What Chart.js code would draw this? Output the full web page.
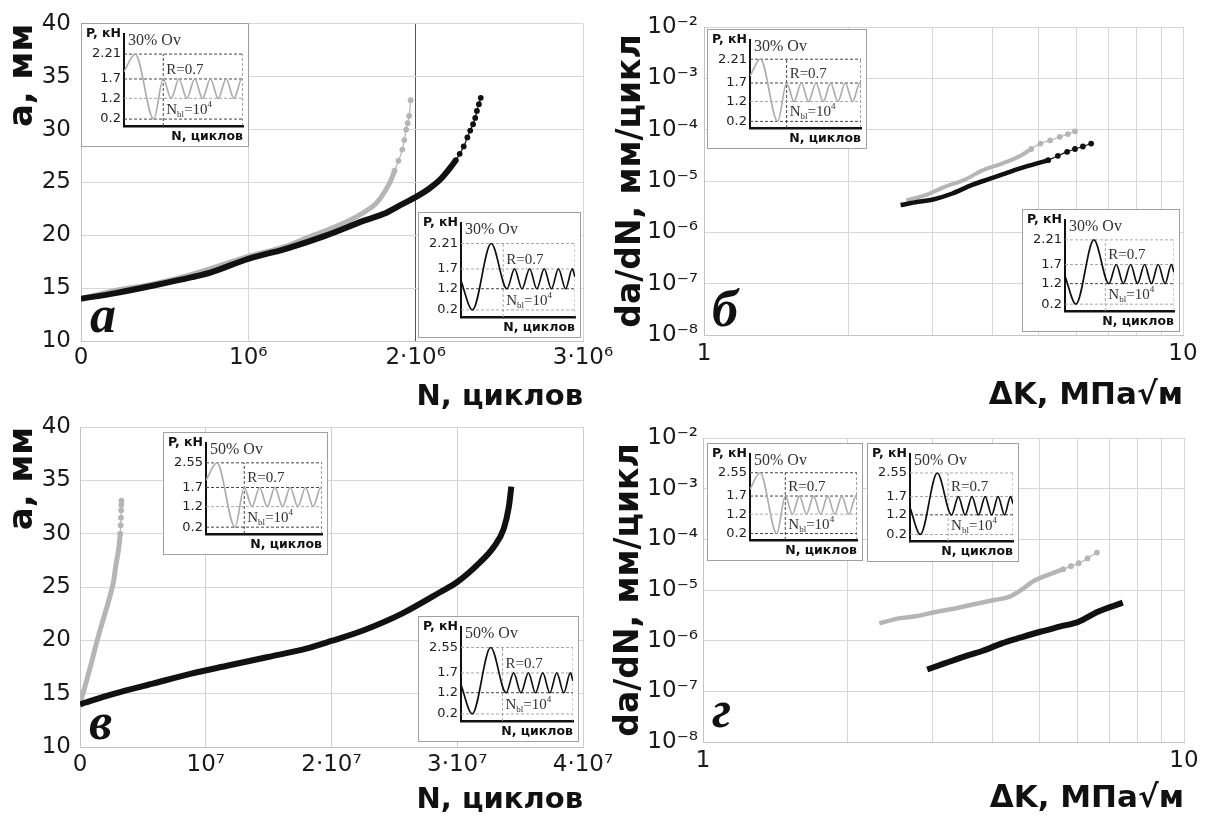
<!DOCTYPE html>
<html><head><meta charset="utf-8">
<script src="https://cdn.jsdelivr.net/npm/chart.js@4.4.0/dist/chart.umd.min.js"></script>
<style>
html,body{margin:0;padding:0;background:#fff;}
#wrap{position:relative;width:1206px;height:816px;overflow:hidden;background:#fff;}
#wrap canvas{position:absolute;}
.inset{position:absolute;background:#fff;border:1.5px solid #a0a0a0;box-sizing:border-box;}
.lbl{position:absolute;white-space:nowrap;}
.lbl sub{font-size:9px;vertical-align:-3px;line-height:0;}
.lbl sup{font-size:9px;vertical-align:7px;line-height:0;}
</style></head><body><div id="wrap"></div>
<script>
// ================= DATA =================
// Panel а : crack length a (mm) vs N (cycles), 30% overload
const aBlackN = [0, 0.206e6, 0.434e6, 0.663e6, 0.777e6, 1.0e6, 1.234e6, 1.463e6, 1.691e6, 1.806e6, 1.92e6, 2.0e6, 2.08e6, 2.149e6, 2.217e6, 2.24e6, 2.263e6, 2.287e6, 2.309e6, 2.326e6, 2.343e6, 2.356e6, 2.366e6, 2.378e6, 2.389e6];
const aBlackA = [14.0, 14.53, 15.25, 16.04, 16.5, 17.77, 18.77, 19.97, 21.38, 22.0, 22.95, 23.6, 24.4, 25.3, 26.6, 27.1, 27.7, 28.4, 29.25, 29.9, 30.5, 31.1, 31.76, 32.4, 33.0];
const aGrayN  = [0, 0.206e6, 0.434e6, 0.663e6, 1.0e6, 1.234e6, 1.349e6, 1.463e6, 1.577e6, 1.691e6, 1.76e6, 1.806e6, 1.851e6, 1.874e6, 1.897e6, 1.92e6, 1.932e6, 1.943e6, 1.952e6, 1.961e6, 1.97e6];
const aGrayA  = [14.0, 14.78, 15.4, 16.3, 18.0, 19.0, 19.75, 20.44, 21.2, 22.17, 22.96, 23.9, 25.16, 26.1, 27.04, 28.1, 29.0, 30.0, 30.6, 31.3, 32.77];
const xTicksA = [0, 1e6, 2e6, 3e6];
const xTickLabelsA = ['0', '10⁶', '2·10⁶', '3·10⁶'];

// Panel б : da/dN vs ΔK, 30% overload
const bBlackK = [2.573, 2.796, 3.009, 3.30, 3.617, 3.97, 4.35, 4.77, 5.0, 5.23, 5.48, 5.73, 5.95, 6.18, 6.43];
const bBlackV = [3.4e-6, 3.94e-6, 4.37e-6, 5.71e-6, 8.3e-6, 1.12e-5, 1.51e-5, 1.99e-5, 2.25e-5, 2.55e-5, 3.1e-5, 3.7e-5, 4.2e-5, 4.7e-5, 5.37e-5];
const bGrayK  = [2.645, 2.90, 3.18, 3.487, 3.824, 4.19, 4.6, 4.82, 5.04, 5.28, 5.53, 5.75, 5.95];
const bGrayV  = [4.24e-6, 5.3e-6, 7.7e-6, 1.04e-5, 1.63e-5, 2.19e-5, 3.18e-5, 4.2e-5, 5.37e-5, 6.2e-5, 7.24e-5, 8.2e-5, 9.3e-5];

// Panel в : a (mm) vs N (cycles), 50% overload
const cBlackN = [0, 0.274e7, 0.579e7, 0.884e7, 1.189e7, 1.494e7, 1.799e7, 2.0e7, 2.256e7, 2.56e7, 2.866e7, 3.0e7, 3.17e7, 3.29e7, 3.37e7, 3.41e7, 3.43e7];
const cBlackA = [14.0, 15.0, 15.94, 16.88, 17.66, 18.44, 19.22, 19.94, 20.94, 22.5, 24.53, 25.47, 27.19, 28.75, 30.47, 32.5, 34.4];
const cGrayN  = [0, 0.046e7, 0.082e7, 0.137e7, 0.183e7, 0.229e7, 0.268e7, 0.2835e7, 0.305e7, 0.3201e7, 0.3235e7, 0.3258e7, 0.3275e7, 0.3288e7, 0.3295e7];
const cGrayA  = [14.06, 15.94, 17.5, 20.0, 21.9, 23.75, 25.6, 26.9, 28.4, 30.0, 30.8, 31.5, 32.2, 32.7, 33.1];
const xTicksC = [0, 1e7, 2e7, 3e7, 4e7];
const xTickLabelsC = ['0', '10⁷', '2·10⁷', '3·10⁷', '4·10⁷'];

// Panel г : da/dN vs ΔK, 50% overload
const dGrayK  = [2.326, 2.55, 2.794, 3.06, 3.357, 3.68, 4.03, 4.34, 4.585, 4.845, 5.21, 5.42, 5.61, 5.82, 6.04, 6.3, 6.59];
const dGrayV  = [2.19e-6, 2.75e-6, 3.06e-6, 3.73e-6, 4.35e-6, 5.3e-6, 6.35e-6, 7.4e-6, 1.0e-5, 1.46e-5, 1.98e-5, 2.27e-5, 2.57e-5, 2.95e-5, 3.38e-5, 4.2e-5, 5.48e-5];
const dBlackK = [2.925, 3.177, 3.48, 3.817, 4.18, 4.585, 5.025, 5.51, 6.04, 6.62, 7.46];
const dBlackV = [2.7e-7, 3.55e-7, 4.8e-7, 6.32e-7, 8.83e-7, 1.16e-6, 1.5e-6, 1.89e-6, 2.37e-6, 3.73e-6, 5.62e-6];

// linear a-axis ticks, log axes ticks
const aTicks = [10, 15, 20, 25, 30, 35, 40];
const aTickLabels = ['10', '15', '20', '25', '30', '35', '40'];
const rateTicks = [1e-8, 1e-7, 1e-6, 1e-5, 1e-4, 1e-3, 1e-2];
const rateTickLabels = ['10⁻⁸', '10⁻⁷', '10⁻⁶', '10⁻⁵', '10⁻⁴', '10⁻³', '10⁻²'];
const kTicks = [1, 2, 3, 4, 5, 6, 7, 8, 9, 10];
const kTickLabels = ['1', '', '', '', '', '', '', '', '', '10'];

// Inset load schemes (P, kN vs cycles, schematic)
const levels30 = [0.2, 1.2, 1.7, 2.21];
const levels50 = [0.2, 1.2, 1.7, 2.55];
const levelLabels30 = ['0.2', '1.2', '1.7', '2.21'];
const levelLabels50 = ['0.2', '1.2', '1.7', '2.55'];
const grayWaveX   = [0, 9.4, 25, 33, 39.6, 46.2, 52.8, 59.4, 66, 72.6, 79.2, 85.8, 92.4, 99, 100];
const grayWave30P = [1.85, 2.21, 0.2, 1.7, 1.2, 1.7, 1.2, 1.7, 1.2, 1.7, 1.2, 1.7, 1.2, 1.7, 1.66];
const grayWave50P = [1.95, 2.55, 0.2, 1.7, 1.2, 1.7, 1.2, 1.7, 1.2, 1.7, 1.2, 1.7, 1.2, 1.7, 1.66];
const blackWaveX   = [0, 10, 26.5, 40.3, 47, 53.5, 60.2, 66.5, 73, 79.3, 85.5, 91.8, 97.6, 100];
const blackWave30P = [1.4, 0.2, 2.21, 1.2, 1.7, 1.2, 1.7, 1.2, 1.7, 1.2, 1.7, 1.2, 1.7, 1.5];
const blackWave50P = [1.4, 0.2, 2.55, 1.2, 1.7, 1.2, 1.7, 1.2, 1.7, 1.2, 1.7, 1.2, 1.7, 1.5];
const grayBlockX = 33, blackBlockX = 37;

// ================= SETUP =================
const FONT = "'DejaVu Sans', 'Noto Sans', sans-serif";
Chart.defaults.font.family = FONT;
Chart.defaults.color = '#1a1a1a';
const GRID = '#d6d6d6';
const BLACK = '#111111', GRAY = '#b5b5b5';

// schematic vertical axis of the insets (non-proportional, as drawn in the original)
const INSET_POS = [0.075, 0.30, 0.51, 0.78];
function mapPiecewise(v, L, P) {
  const xs = [0].concat(L), ys = [0].concat(P);
  for (let i = 1; i < xs.length; i++) {
    if (v <= xs[i] || i === xs.length - 1) {
      const t = (v - xs[i - 1]) / (xs[i] - xs[i - 1]);
      return ys[i - 1] + t * (ys[i] - ys[i - 1]);
    }
  }
  return 0;
}
const BaseLinear = Chart.LinearScale || Chart.registry.getScale('linear');
class SchematicScale extends BaseLinear {
  getPixelForValue(value) {
    const L = this.options.levels || levels30;
    const P = this.options.positions || INSET_POS;
    return this.getPixelForDecimal(mapPiecewise(value, L, P));
  }
  getValueForPixel() { return 0; }
}
SchematicScale.id = 'schematic';
SchematicScale.defaults = BaseLinear.defaults;
Chart.register(SchematicScale);

const wrap = document.getElementById('wrap');
function mkCanvas(x, y, w, h) {
  const c = document.createElement('canvas');
  c.width = w; c.height = h;
  c.style.left = x + 'px'; c.style.top = y + 'px';
  c.style.width = w + 'px'; c.style.height = h + 'px';
  wrap.appendChild(c);
  return c;
}
function mkText(html, x, y, css) {
  const d = document.createElement('div');
  d.className = 'lbl';
  d.innerHTML = html;
  d.style.left = x + 'px'; d.style.top = y + 'px';
  Object.assign(d.style, css || {});
  wrap.appendChild(d);
  return d;
}
function pts(xs, ys) { return xs.map((x, i) => ({x: x, y: ys[i]})); }

function series(xs, ys, color, width, isTail) {
  const data = pts(xs, ys);
  return {
    data: data,
    borderColor: color, backgroundColor: color,
    borderWidth: width,
    pointRadius: c => (c.raw && isTail(c.raw)) ? 2.9 : 0,
    pointBorderWidth: 0,
    pointBackgroundColor: color,
    cubicInterpolationMode: 'monotone',
    fill: false,
    segment: { borderWidth: c => isTail(data[c.p0DataIndex]) ? 1.2 : width }
  };
}

function axis(type, min, max, tickVals, tickLabels, o) {
  return {
    type: type, min: min, max: max,
    afterBuildTicks: ax => { ax.ticks = tickVals.map(v => ({value: v})); },
    ticks: { callback: (v, i) => tickLabels[i], autoSkip: false, maxRotation: 0, minRotation: 0,
             color: '#1a1a1a', font: {size: 23}, padding: o.tickPad },
    grid: { color: o.gridColor || GRID, lineWidth: 1, drawTicks: false },
    border: { display: true, color: '#c4c4c4', width: 1 },
    title: { display: true, text: o.title, align: o.align, color: '#111',
             font: {size: o.titleSize, weight: 'bold'}, padding: o.titlePad },
    afterFit: s => { if (s.isHorizontal()) s.height = o.size; else s.width = o.size; }
  };
}

function mainChart(c, padding, x, y, datasets) {
  return new Chart(c, {
    type: 'line',
    data: { datasets: datasets },
    options: {
      animation: false, responsive: false, events: [],
      layout: { padding: padding },
      plugins: { legend: {display: false}, tooltip: {enabled: false} },
      scales: { x: x, y: y }
    }
  });
}

// ================= MAIN PANELS =================
// а
mainChart(mkCanvas(0, 0, 620, 415), {left: 0, top: 23, right: 37, bottom: 0},
  axis('linear', 0, 3e6, xTicksA, xTickLabelsA, {tickPad: 3, title: 'N, циклов', align: 'end', titleSize: 29,
       titlePad: {top: 0, bottom: 0}, size: 74,
       gridColor: c => (c.tick && c.tick.value === 2e6) ? '#555' : GRID}),
  axis('linear', 10, 40, aTicks, aTickLabels, {tickPad: 10, title: 'a, мм', align: 'end', titleSize: 34,
       titlePad: {top: 3, bottom: 0}, size: 81}),
  [ series(aBlackN, aBlackA, BLACK, 6, p => p.y >= 27),
    series(aGrayN, aGrayA, GRAY, 5, p => p.y >= 25.5) ]);

// б
mainChart(mkCanvas(600, 0, 606, 415), {left: 0, top: 27, right: 23, bottom: 0},
  axis('logarithmic', 1, 10, kTicks, kTickLabels, {tickPad: 5, title: 'ΔK, МПа√м', align: 'end', titleSize: 31,
       titlePad: {top: 0, bottom: 0}, size: 80}),
  axis('logarithmic', 1e-8, 1e-2, rateTicks, rateTickLabels, {tickPad: 6, title: 'da/dN, мм/цикл', align: 'center', titleSize: 33,
       titlePad: {top: 12, bottom: 0}, size: 104}),
  [ series(bBlackK, bBlackV, BLACK, 4.5, p => p.x >= 5.1),
    series(bGrayK, bGrayV, GRAY, 4, p => p.x >= 4.7) ]);

// в
mainChart(mkCanvas(0, 400, 620, 418), {left: 0, top: 27, right: 37, bottom: 0},
  axis('linear', 0, 4e7, xTicksC, xTickLabelsC, {tickPad: 4, title: 'N, циклов', align: 'end', titleSize: 29,
       titlePad: {top: 0, bottom: 0}, size: 71, gridColor: '#cfcfcf'}),
  axis('linear', 10, 40, aTicks, aTickLabels, {tickPad: 9, title: 'a, мм', align: 'end', titleSize: 34,
       titlePad: {top: 3, bottom: 0}, size: 80}),
  [ series(cBlackN, cBlackA, BLACK, 6, p => false),
    series(cGrayN, cGrayA, GRAY, 5, p => p.y >= 29.5) ]);

// г
mainChart(mkCanvas(600, 400, 606, 418), {left: 0, top: 38, right: 22, bottom: 0},
  axis('logarithmic', 1, 10, kTicks, kTickLabels, {tickPad: 5, title: 'ΔK, МПа√м', align: 'end', titleSize: 31,
       titlePad: {top: 0, bottom: 0}, size: 76}),
  axis('logarithmic', 1e-8, 1e-2, rateTicks, rateTickLabels, {tickPad: 5, title: 'da/dN, мм/цикл', align: 'center', titleSize: 33,
       titlePad: {top: 10, bottom: 0}, size: 103}),
  [ series(dBlackK, dBlackV, BLACK, 6, p => false),
    series(dGrayK, dGrayV, GRAY, 4.5, p => p.x >= 5.5) ]);

// ================= INSETS =================
function inset(box, spec) {
  const frame = document.createElement('div');
  frame.className = 'inset';
  Object.assign(frame.style, {left: box.x + 'px', top: box.y + 'px', width: box.w + 'px', height: box.h + 'px'});
  wrap.appendChild(frame);
  const c = mkCanvas(box.x, box.y, box.w, box.h);
  const axisX = 43, plotTop = 6, axisY = box.h - 21, plotRight = box.w - 6;
  const isGray = spec.color === 'gray';
  const waveColor = isGray ? '#adadad' : '#111';
  const baseDash = isGray ? '#444' : '#a8a8a8';
  const altDash = isGray ? '#a8a8a8' : '#444';
  const top = spec.levels[spec.levels.length - 1];
  const ds = [];
  ds.push({ data: pts(spec.waveX, spec.waveP), borderColor: waveColor, borderWidth: 1.7,
            pointRadius: 0, cubicInterpolationMode: 'monotone', fill: false });
  spec.levels.forEach((L, i) => {
    ds.push({ data: [{x: 0, y: L}, {x: 100, y: L}], borderColor: i === 1 ? altDash : baseDash,
              borderWidth: 1, borderDash: [3, 2], pointRadius: 0, fill: false });
  });
  [spec.blockX, 100].forEach(xv => {
    ds.push({ data: [{x: xv, y: 0}, {x: xv, y: top}], borderColor: baseDash,
              borderWidth: 1, borderDash: [3, 2], pointRadius: 0, fill: false });
  });
  new Chart(c, {
    type: 'line',
    data: { datasets: ds },
    options: {
      animation: false, responsive: false, events: [],
      layout: { padding: {left: 0, top: plotTop, right: 6, bottom: 0} },
      plugins: { legend: {display: false}, tooltip: {enabled: false} },
      scales: {
        x: { type: 'linear', min: 0, max: 100,
             ticks: {display: false}, grid: {display: false, drawTicks: false},
             border: {display: true, color: '#111', width: 2.5},
             title: {display: true, text: 'N, циклов', align: 'end', color: '#111',
                     font: {size: 12.5, weight: 'bold'}, padding: {top: 0, bottom: 3}},
             afterFit: s => { s.height = 21; } },
        y: { type: 'schematic', levels: spec.levels, positions: INSET_POS, min: 0, max: 3,
             afterBuildTicks: ax => { ax.ticks = spec.levels.map(v => ({value: v})); },
             ticks: { callback: (v, i) => spec.labels[i], autoSkip: false, color: '#222',
                      font: {size: 13}, padding: 3 },
             grid: {display: false, drawTicks: false},
             border: {display: true, color: '#111', width: 2},
             afterFit: s => { s.width = axisX; } }
      }
    }
  });
  const plotH = axisY - plotTop;
  const yPix = L => box.y + plotTop + (1 - mapPiecewise(L, spec.levels, INSET_POS)) * plotH;
  const blockPx = box.x + axisX + spec.blockX / 100 * (plotRight - axisX);
  mkText('P, кН', box.x + 1, box.y + 15 - 0.85 * 12.5,
         {width: (axisX - 4) + 'px', textAlign: 'right', font: 'bold 12.5px ' + FONT, lineHeight: '12.5px', color: '#111'});
  const serif = "'Liberation Serif', 'DejaVu Serif', serif";
  mkText(spec.over, box.x + axisX + 4, box.y + 22 - 0.84 * 16,
         {font: '16px ' + serif, lineHeight: '16px', color: '#333'});
  mkText('R=0.7', blockPx + 3, yPix(1.7) - 2 - 0.84 * 15,
         {font: '15px ' + serif, lineHeight: '15px', color: '#333'});
  mkText('N<sub>bl</sub>=10<sup>4</sup>', blockPx + 3, yPix(spec.levels[0]) - 4 - 0.84 * 15,
         {font: '15px ' + serif, lineHeight: '15px', color: '#333'});
}

const g30 = {color: 'gray', levels: levels30, labels: levelLabels30, waveX: grayWaveX, waveP: grayWave30P, blockX: grayBlockX, over: '30% Ov'};
const k30 = {color: 'black', levels: levels30, labels: levelLabels30, waveX: blackWaveX, waveP: blackWave30P, blockX: blackBlockX, over: '30% Ov'};
const g50 = {color: 'gray', levels: levels50, labels: levelLabels50, waveX: grayWaveX, waveP: grayWave50P, blockX: grayBlockX, over: '50% Ov'};
const k50 = {color: 'black', levels: levels50, labels: levelLabels50, waveX: blackWaveX, waveP: blackWave50P, blockX: blackBlockX, over: '50% Ov'};

inset({x: 81, y: 23, w: 168, h: 124}, g30);
inset({x: 418, y: 212, w: 163, h: 126}, k30);
inset({x: 707, y: 29, w: 160, h: 120}, g30);
inset({x: 1022, y: 209, w: 158, h: 123}, k30);
inset({x: 163, y: 432, w: 165, h: 123}, g50);
inset({x: 418, y: 616, w: 161, h: 126}, k50);
inset({x: 707, y: 443, w: 156, h: 118}, g50);
inset({x: 867, y: 443, w: 152, h: 119}, k50);

// ================= PANEL LETTERS =================
const letterCss = {font: "italic bold 52px 'Liberation Serif', 'DejaVu Serif', serif", lineHeight: '52px', color: '#111'};
mkText('а', 90, 289, letterCss);
mkText('б', 712, 283, letterCss);
mkText('в', 89, 696, letterCss);
mkText('г', 712, 684, letterCss);
</script></body></html>
